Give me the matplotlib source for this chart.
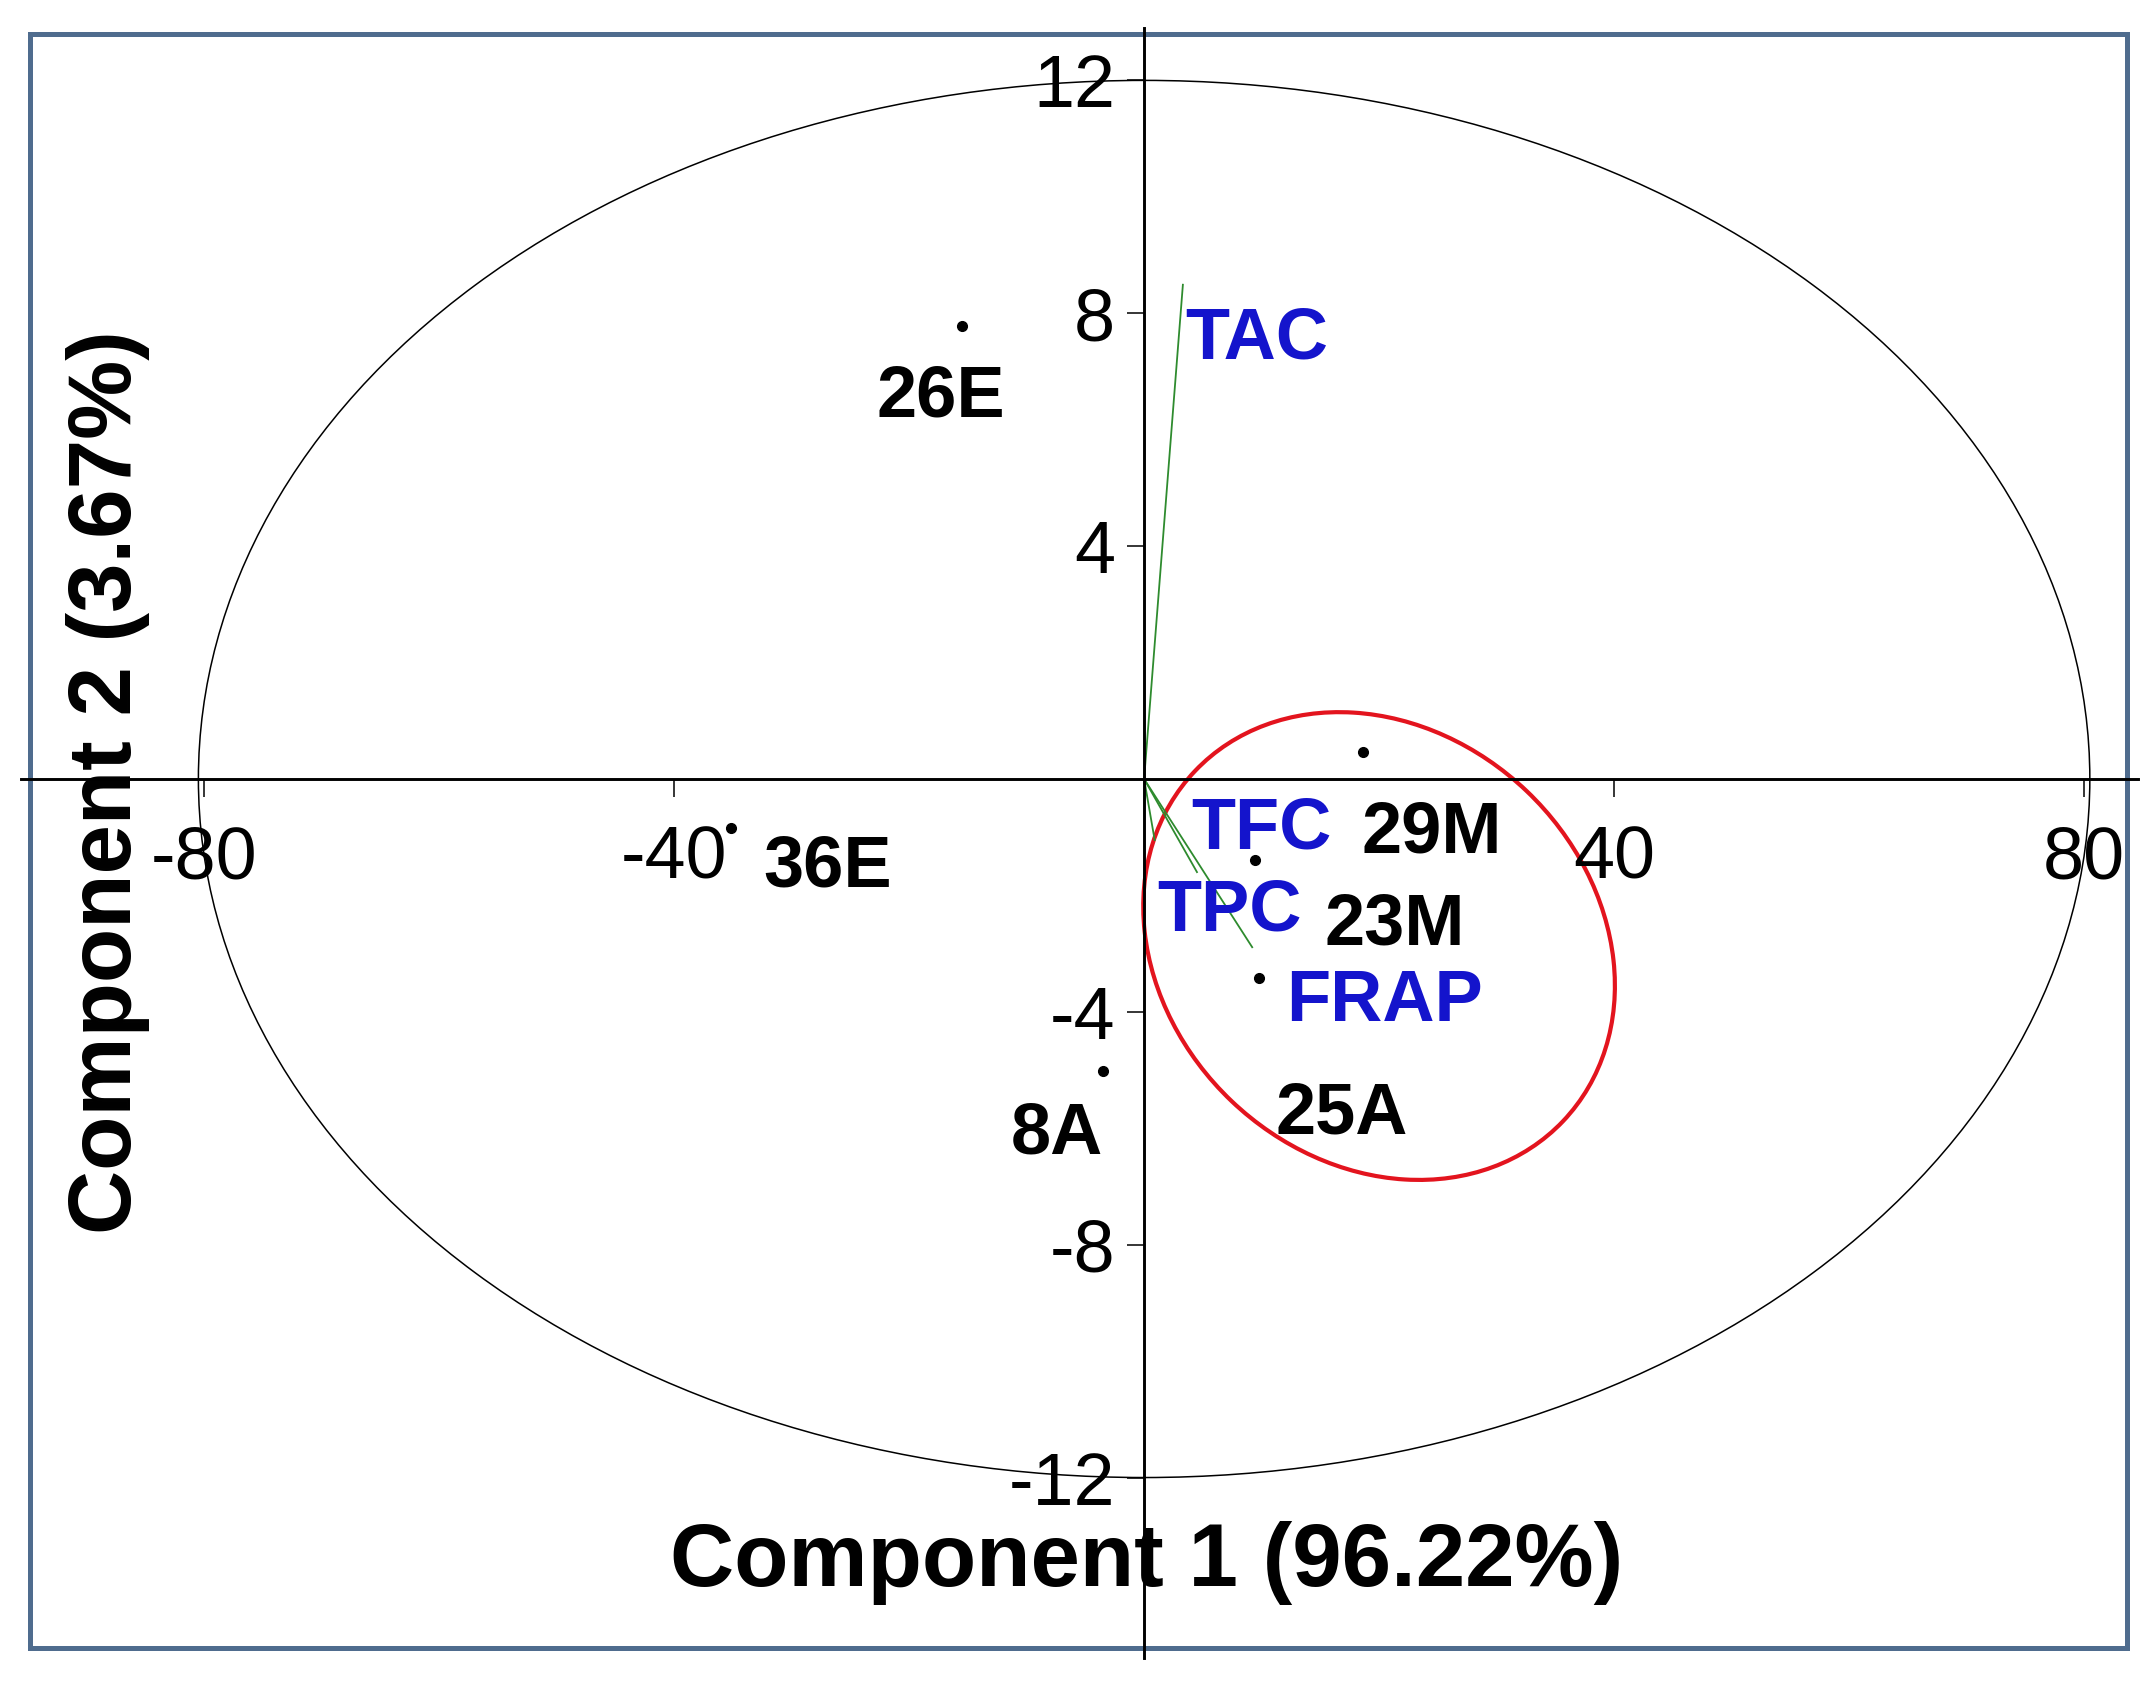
import numpy as np
import matplotlib
matplotlib.use('Agg')
import matplotlib.pyplot as plt
from matplotlib.patches import Ellipse, Rectangle
import matplotlib.transforms as mtransforms

plt.rcParams['font.family'] = ['Liberation Sans', 'DejaVu Sans']
plt.rcParams['axes.unicode_minus'] = False

# --- scores (muestras) ---
samples = ['26E', '36E', '8A', '29M', '23M', '25A']
pc1 = [-15.5, -35.2, -3.5, 18.6, 9.4, 9.8]
pc2 = [7.78, -0.84, -5.02, 0.46, -1.39, -3.42]

# --- loadings (variables) ---
variables = ['TAC', 'TFC', 'TPC', 'FRAP']
load1 = [3.3, 0.9, 9.2, 4.5]
load2 = [8.49, -1.05, -2.89, -1.6]

xticks = [-80, -40, 40, 80]
yticks = [-12, -8, -4, 4, 8, 12]

xlabel = 'Component 1 (96.22%)'
ylabel = 'Component 2 (3.67%)'

# offsets de las etiquetas (puntos)
sample_off = [(-15, -65), (70, -42), (-33, -59), (50, -72), (101, -61), (59, -112)]
var_off = [(53, -53), (77, -6), (-16, 12), (135, -107)]

W, H = 2152, 1685
fig = plt.figure(figsize=(W / 100, H / 100), dpi=100)
ax = fig.add_axes([21 / W, 1 - 1658 / H, (2138 - 21) / W, (1658 - 28) / H])
ax.set_xlim(-95.6, 84.6)
ax.set_ylim(-15.1, 12.9)

# ejes cruzando en el origen
for s in ['top', 'right']:
    ax.spines[s].set_visible(False)
for s in ['left', 'bottom']:
    ax.spines[s].set_position(('data', 0))
    ax.spines[s].set_linewidth(2.1)
ax.set_xticks(xticks)
ax.set_yticks(yticks)
ax.tick_params(axis='x', direction='out', length=13, width=1.1, pad=20, labelsize=53)
ax.tick_params(axis='y', direction='out', length=12, width=1.1, pad=9, labelsize=53)
ax.patch.set_alpha(0)

# circulo de correlacion (escalado)
ax.add_patch(Ellipse((0, 0), 161, 24, fill=False, ec='black', lw=1.1))

# loadings
for name, lx, ly, off in zip(variables, load1, load2, var_off):
    ax.plot([0, lx], [0, ly], color='#2E8B2E', lw=1.3)
    ax.annotate(name, (lx, ly), xytext=off, textcoords='offset points',
                ha='center', va='baseline', fontsize=52, fontweight='bold',
                color='#1414CC')

# puntos
ax.plot(pc1, pc2, 'o', ms=7, color='black')
for name, x, y, off in zip(samples, pc1, pc2, sample_off):
    ax.annotate(name, (x, y), xytext=off, textcoords='offset points',
                ha='center', va='baseline', fontsize=52, fontweight='bold',
                color='black')

# elipse roja del grupo
red_center = (20.0, -2.87)
trans = fig.dpi_scale_trans + mtransforms.ScaledTranslation(
    red_center[0], red_center[1], ax.transData)
ax.add_patch(Ellipse((0, 0), 5.08, 4.28, angle=-43.6, fill=False,
                     ec='#E3141E', lw=3, transform=trans))

fig.text(1147 / W, 1 - 1563 / H, xlabel, ha='center', va='center',
         fontsize=64, fontweight='bold')
fig.text(108 / W, 1 - 782 / H, ylabel, ha='center', va='center',
         fontsize=64, fontweight='bold', rotation=90)

# marco
fig.add_artist(Rectangle((30 / W, 1 - 1648 / H), (2127 - 30) / W, (1648 - 34) / H,
                         transform=fig.transFigure, fill=False,
                         ec='#4F6C8E', lw=3.6, zorder=-1))

fig.savefig('out.png', dpi=100)
